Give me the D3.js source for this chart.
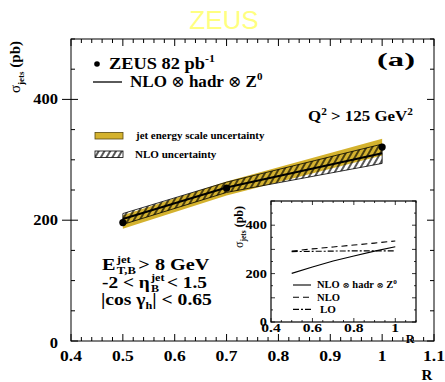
<!DOCTYPE html>
<html>
<head>
<meta charset="utf-8">
<script src="https://cdn.jsdelivr.net/npm/d3@7"></script>
<style>
  body { margin: 0; background: #fff; }
  svg { display: block; }
  .ser { font-family: "Liberation Serif", "Times New Roman", serif; font-weight: bold; fill: #000; }
</style>
</head>
<body>
<svg id="chart" width="445" height="382"></svg>
<script>
// Jet cross sections vs. jet radius R
const radius = [0.5, 0.7, 1.0];
const sigmaData = [196, 253, 321];
const jesUp = [208, 264, 335];
const jesDown = [186, 241, 307];
const theory = [202, 254, 311];
const nloUp = [211, 263, 326];
const nloDown = [193, 246, 294];

// inset: theory curves on a finer R grid
const insetR = [0.5, 0.6, 0.7, 0.8, 0.9, 1.0];
const insetFull = [201, 227, 252, 273, 293, 311];
const insetNLO = [293, 302, 310, 318, 326, 335];
const insetLO = [291, 292, 293, 294, 294, 294];

const xTicks = [0.4, 0.5, 0.6, 0.7, 0.8, 0.9, 1, 1.1];
const yTicks = [0, 200, 400];
const insetXTicks = [0.4, 0.6, 0.8, 1];
const insetYTicks = [0, 200, 400];

const svg = d3.select("#chart");
const defs = svg.append("defs");
defs.append("pattern")
  .attr("id", "hatch").attr("patternUnits", "userSpaceOnUse")
  .attr("width", 5).attr("height", 10)
  .attr("patternTransform", "rotate(30)")
  .append("line").attr("x1", 1).attr("y1", 0).attr("x2", 1).attr("y2", 10)
  .attr("stroke", "#000").attr("stroke-width", 1.3);

const gold = "#d4b22e";

// stretch a group horizontally so that it spans x0..x1
function fitX(sel, x0, x1) {
  const bb = sel.node().getBBox();
  const s = (x1 - x0) / bb.width;
  const base = sel.attr("transform") || "";
  sel.attr("transform", `translate(${x0 - s * bb.x},0) scale(${s},1) ${base}`);
}
// widen a single text about its anchor point
function widen(sel, ax, s) {
  sel.attr("transform", `translate(${ax},0) scale(${s},1) translate(${-ax},0)`);
}
function otimes(t, size) {
  t.append("tspan").attr("font-weight", "normal").attr("font-family", "DejaVu Serif, serif")
    .attr("font-size", size).text("⊗");
}

// title
svg.append("text").attr("x", 224).attr("y", 29).attr("text-anchor", "middle")
  .attr("font-family", "Liberation Sans, Arial, sans-serif").attr("font-size", 26)
  .attr("fill", "#ffff80").text("ZEUS");

// main frame
const M = { l: 71, r: 434, t: 39, b: 341 };
const x = d3.scaleLinear().domain([0.4, 1.1]).range([M.l, M.r]);
const y = d3.scaleLinear().domain([0, 500]).range([M.b, M.t]);

function frameTicks(g, xs, ys, box, xMinor, xMajor, yMinor, yMajor, lenMin, lenMaj) {
  const xt = d3.range(xs.domain()[0], xs.domain()[1] + 1e-9, xMinor);
  xt.forEach(v => {
    const maj = Math.abs(v / xMajor - Math.round(v / xMajor)) < 1e-6;
    const L = maj ? lenMaj : lenMin;
    g.append("line").attr("x1", xs(v)).attr("x2", xs(v)).attr("y1", box.b).attr("y2", box.b - L);
    g.append("line").attr("x1", xs(v)).attr("x2", xs(v)).attr("y1", box.t).attr("y2", box.t + L);
  });
  const yt = d3.range(ys.domain()[0], ys.domain()[1] + 1e-9, yMinor);
  yt.forEach(v => {
    const maj = Math.abs(v / yMajor - Math.round(v / yMajor)) < 1e-6;
    const L = maj ? lenMaj : lenMin;
    g.append("line").attr("y1", ys(v)).attr("y2", ys(v)).attr("x1", box.l).attr("x2", box.l + L);
    g.append("line").attr("y1", ys(v)).attr("y2", ys(v)).attr("x1", box.r).attr("x2", box.r - L);
  });
}

const gMain = svg.append("g").attr("stroke", "#000").attr("stroke-width", 1);
frameTicks(gMain, x, y, M, 0.02, 0.1, 50, 200, 4, 7);
// major y ticks reach outside the frame
yTicks.filter(v => v > 0).forEach(v => {
  gMain.append("line").attr("x1", M.l - 9).attr("x2", M.l).attr("y1", y(v)).attr("y2", y(v));
});
gMain.append("rect").attr("x", M.l).attr("y", M.t).attr("width", M.r - M.l).attr("height", M.b - M.t)
  .attr("fill", "none");

// tick labels
svg.append("g").selectAll("text").data(xTicks).join("text")
  .attr("class", "ser").attr("font-size", 15).attr("text-anchor", "middle")
  .attr("x", d => x(d)).attr("y", 361).text(d => d3.format("")(d))
  .each(function (d) { widen(d3.select(this), x(d), 1.17); });
svg.append("g").selectAll("text").data(yTicks).join("text")
  .attr("class", "ser").attr("font-size", 15).attr("text-anchor", "end")
  .attr("x", 58).attr("y", d => y(d) + (d === 0 ? 7 : 5)).text(d => d)
  .each(function () { widen(d3.select(this), 58, 1.1); });

svg.append("text").attr("class", "ser").attr("font-size", 15)
  .attr("x", 427).attr("y", 380).attr("text-anchor", "middle").text("R");

const yl = svg.append("text").attr("class", "ser").attr("font-size", 15)
  .attr("transform", "translate(20,67) rotate(-90)").attr("text-anchor", "middle");
yl.append("tspan").attr("font-weight", "normal").text("σ");
yl.append("tspan").attr("font-size", 9).attr("dy", 4).text("jets");
yl.append("tspan").attr("dy", -4).text(" (pb)");

// bands
const pts = radius.map((r, i) => ({ r, s: sigmaData[i], ju: jesUp[i], jd: jesDown[i], t: theory[i], nu: nloUp[i], nd: nloDown[i] }));
svg.append("path").datum(pts)
  .attr("d", d3.area().x(d => x(d.r)).y0(d => y(d.jd)).y1(d => y(d.ju)))
  .attr("fill", gold);
svg.append("path").datum(pts)
  .attr("d", d3.area().x(d => x(d.r)).y0(d => y(d.nd)).y1(d => y(d.nu)))
  .attr("fill", "url(#hatch)").attr("stroke", "#000").attr("stroke-width", 0.8);
svg.append("path").datum(pts)
  .attr("d", d3.line().x(d => x(d.r)).y(d => y(d.t)))
  .attr("fill", "none").attr("stroke", "#000").attr("stroke-width", 2);
svg.append("g").selectAll("circle").data(pts).join("circle")
  .attr("cx", d => x(d.r)).attr("cy", d => y(d.s)).attr("r", 3.6).attr("fill", "#000");

// legend, top
svg.append("circle").attr("cx", 97).attr("cy", 64).attr("r", 2.8).attr("fill", "#000");
const g1 = svg.append("g");
const t1 = g1.append("text").attr("class", "ser").attr("font-size", 17).attr("x", 0).attr("y", 69);
t1.append("tspan").text("ZEUS 82 pb");
t1.append("tspan").attr("font-size", 11).attr("dy", -7).text("-1");
fitX(g1, 109, 215);
svg.append("line").attr("x1", 93).attr("x2", 122).attr("y1", 82).attr("y2", 82).attr("stroke", "#000").attr("stroke-width", 1.3);
const g2 = svg.append("g");
const t2 = g2.append("text").attr("class", "ser").attr("font-size", 17).attr("x", 0).attr("y", 87);
t2.append("tspan").text("NLO ");
otimes(t2, 16);
t2.append("tspan").text(" hadr ");
otimes(t2, 16);
t2.append("tspan").text(" Z");
t2.append("tspan").attr("font-size", 11).attr("dy", -7).text("0");
fitX(g2, 130, 263);

const ga = svg.append("g");
ga.append("text").attr("class", "ser").attr("font-size", 19).attr("x", 0).attr("y", 66).text("(a)");
fitX(ga, 377, 415);

const gq = svg.append("g");
const q = gq.append("text").attr("class", "ser").attr("font-size", 15).attr("x", 0).attr("y", 121);
q.append("tspan").text("Q");
q.append("tspan").attr("font-size", 10).attr("dy", -6).text("2");
q.append("tspan").attr("dy", 6).text(" > 125 GeV");
q.append("tspan").attr("font-size", 10).attr("dy", -6).text("2");
fitX(gq, 308, 413);

// band legend
svg.append("rect").attr("x", 95).attr("y", 132.5).attr("width", 28).attr("height", 6.5)
  .attr("fill", gold).attr("stroke", "#5a4a10").attr("stroke-width", 0.8);
const gb1 = svg.append("g");
gb1.append("text").attr("class", "ser").attr("font-size", 11).attr("x", 0).attr("y", 139)
  .text("jet energy scale uncertainty");
fitX(gb1, 135, 265);
svg.append("rect").attr("x", 95).attr("y", 151).attr("width", 28).attr("height", 6.5)
  .attr("fill", "url(#hatch)").attr("stroke", "#000").attr("stroke-width", 0.8);
const gb2 = svg.append("g");
gb2.append("text").attr("class", "ser").attr("font-size", 11).attr("x", 0).attr("y", 158)
  .text("NLO uncertainty");
fitX(gb2, 135, 217);

// selection cuts: a base run, a stacked super/subscript pair, and a tail
function cutLine(base, sup, sub, tail, yb, x0, x1) {
  const g = svg.append("g");
  const a = g.append("text").attr("class", "ser").attr("font-size", 16).attr("x", 0).attr("y", yb).text(base);
  const w = a.node().getComputedTextLength() + 1;
  const s1 = g.append("text").attr("class", "ser").attr("font-size", 10).attr("x", w).attr("y", yb - 7).text(sup);
  const s2 = g.append("text").attr("class", "ser").attr("font-size", 10).attr("x", w).attr("y", yb + 4).text(sub);
  const ws = Math.max(s1.node().getComputedTextLength(), s2.node().getComputedTextLength());
  g.append("text").attr("class", "ser").attr("font-size", 16).attr("x", w + ws + 2).attr("y", yb).text(tail);
  fitX(g, x0, x1);
}
cutLine("E", "jet", "T,B", "> 8 GeV", 270, 102, 210);
cutLine("-2 < η", "jet", "B", "< 1.5", 288, 102, 207);
const g3 = svg.append("g");
const c3 = g3.append("text").attr("class", "ser").attr("font-size", 16).attr("x", 0).attr("y", 305);
c3.append("tspan").text("|cos γ");
c3.append("tspan").attr("font-size", 10).attr("dy", 4).text("h");
c3.append("tspan").attr("dy", -4).text("| < 0.65");
fitX(g3, 101, 212);

// inset
const I = { l: 271, r: 416, t: 201, b: 322 };
const xi = d3.scaleLinear().domain([0.4, 1.1]).range([I.l, I.r]);
const yi = d3.scaleLinear().domain([0, 500]).range([I.b, I.t]);
svg.append("rect").attr("x", I.l).attr("y", I.t).attr("width", I.r - I.l).attr("height", I.b - I.t)
  .attr("fill", "#fff");
const gIn = svg.append("g").attr("stroke", "#000").attr("stroke-width", 0.8);
frameTicks(gIn, xi, yi, I, 0.05, 0.2, 50, 100, 2, 4);
gIn.append("rect").attr("x", I.l).attr("y", I.t).attr("width", I.r - I.l).attr("height", I.b - I.t)
  .attr("fill", "none").attr("stroke-width", 1.2);

const lineI = d3.line().x(d => xi(d[0])).y(d => yi(d[1]));
const curves = [
  { v: insetFull, dash: null, name: "NLO ⊗ hadr ⊗ Z", span: [317, 397] },
  { v: insetNLO, dash: "6,4", name: "NLO", span: [317, 340] },
  { v: insetLO, dash: "6,2,2,2", name: "LO", span: [320, 336] }
];
curves.forEach((c, k) => {
  svg.append("path").datum(insetR.map((r, i) => [r, c.v[i]]))
    .attr("d", lineI).attr("fill", "none").attr("stroke", "#000").attr("stroke-width", 1.1)
    .attr("stroke-dasharray", c.dash);
  const ly = 285 + k * 12.2;
  svg.append("line").attr("x1", 293).attr("x2", 311).attr("y1", ly).attr("y2", ly)
    .attr("stroke", "#000").attr("stroke-width", 1.1).attr("stroke-dasharray", c.dash);
  const g = svg.append("g");
  const t = g.append("text").attr("class", "ser").attr("font-size", 9.5).attr("x", 0).attr("y", ly + 3.5);
  if (k === 0) {
    t.append("tspan").text("NLO ");
    otimes(t, 8);
    t.append("tspan").text(" hadr ");
    otimes(t, 8);
    t.append("tspan").text(" Z");
    t.append("tspan").attr("font-size", 6.5).attr("dy", -4).text("0");
  } else {
    t.text(c.name);
  }
  fitX(g, c.span[0], c.span[1]);
});

svg.append("g").selectAll("text").data(insetXTicks).join("text")
  .attr("class", "ser").attr("font-size", 12).attr("text-anchor", "middle")
  .attr("x", d => xi(d)).attr("y", 332).text(d => d3.format("")(d))
  .each(function (d) { widen(d3.select(this), xi(d), 1.3); });
svg.append("g").selectAll("text").data(insetYTicks).join("text")
  .attr("class", "ser").attr("font-size", 12).attr("text-anchor", "end")
  .attr("x", 267).attr("y", d => yi(d) + 4).text(d => d)
  .each(function () { widen(d3.select(this), 267, 1.2); });
svg.append("text").attr("class", "ser").attr("font-size", 12).attr("x", 410).attr("y", 343)
  .attr("text-anchor", "middle").text("R");
const yli = svg.append("text").attr("class", "ser").attr("font-size", 12)
  .attr("transform", "translate(243,227) rotate(-90)").attr("text-anchor", "middle");
yli.append("tspan").attr("font-weight", "normal").text("σ");
yli.append("tspan").attr("font-size", 7.5).attr("dy", 3).text("jets");
yli.append("tspan").attr("dy", -3).text(" (pb)");
</script>
</body>
</html>
